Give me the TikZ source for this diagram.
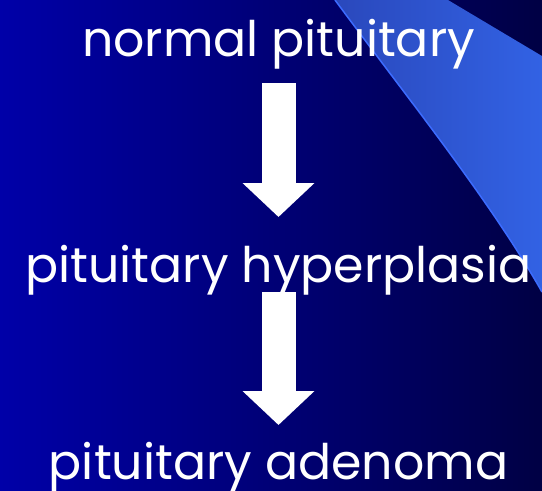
\documentclass[tikz,border=0pt]{standalone}
\usepackage{fontspec}
\setmainfont{Poppins}
\usetikzlibrary{arrows.meta}
\definecolor{BgLeft}{HTML}{0000A8}
\definecolor{BgRight}{HTML}{000044}
\definecolor{BandLeft}{HTML}{2A48BC}
\definecolor{BandRight}{HTML}{3262E4}
\definecolor{BandEdge}{HTML}{3C6CFF}
\tikzset{
  stage/.style    = {text=white, font=\fontsize{49}{58}\selectfont,
                     anchor=base, inner sep=0pt},
  bigarrow/.style = {white, line width=34pt,
                     -{Triangle[length=34pt,width=70pt]}},
}

\begin{document}
\begin{tikzpicture}[x=1pt,y=-1pt]
  \useasboundingbox (0,0) rectangle (542,491);
  % background and corner band
  \shade[left color=BgLeft, right color=BgRight] (0,0) rectangle (542,491);
  \shade[left color=BandLeft, right color=BandRight]
    (335,0) .. controls (405,95) and (490,200) .. (542,292) -- (542,56) -- (448,0) -- cycle;
  \draw[BandEdge, line width=1.5pt] (335,0) .. controls (405,95) and (490,200) .. (542,292);
  \node[stage] (normal) at (278.5,56) {normal pituitary};
  \node[stage] (hyper) at (278.5,282) {pituitary hyperplasia};
  \node[stage] (adenoma) at (278.5,479) {pituitary adenoma};
  \draw[bigarrow, shorten <=27pt, shorten >=65pt] (normal.base) -- (hyper.base);
  \draw[bigarrow, shorten <=10pt, shorten >=54pt] (hyper.base) -- (adenoma.base);
\end{tikzpicture}
\end{document}
